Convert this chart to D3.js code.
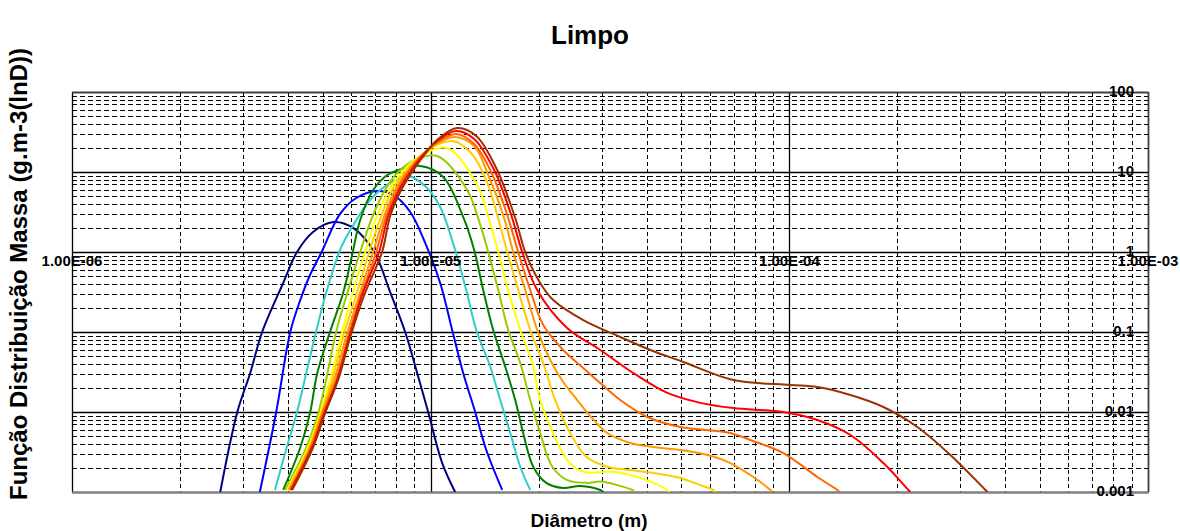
<!DOCTYPE html>
<html>
<head>
<meta charset="utf-8">
<script src="https://cdn.jsdelivr.net/npm/d3@7"></script>
<style>
  html, body { margin: 0; padding: 0; background: #ffffff; }
  svg { display: block; }
  text { font-family: "Liberation Sans", Arial, sans-serif; font-weight: bold; fill: #000; }
</style>
</head>
<body>
<svg id="chart" width="1180" height="531"></svg>
<script>
// ---------------- DATA (diameter in m, value in g.m-3) ----------------
const chartTitle = "Limpo";
const xTitle = "Diâmetro (m)";
const yTitle = "Função Distribuição Massa (g.m-3(lnD))";
const xTickValues = [1e-6, 1e-5, 1e-4, 1e-3];
const xTickLabels = ["1.00E-06", "1.00E-05", "1.00E-04", "1.00E-03"];
const yTickValues = [100, 10, 1, 0.1, 0.01, 0.001];
const yTickLabels = ["100", "10", "1", "0.1", "0.01", "0.001"];

const serie1 = [[2.59e-6,0.001],[2.89e-6,0.01],[3.14e-6,0.0307],[3.39e-6,0.1],[3.88e-6,0.41],[4.24e-6,1.0],[4.70e-6,1.78],[5.35e-6,2.37],[6.08e-6,2.0],[6.96e-6,1.0],[7.71e-6,0.316],[8.49e-6,0.1],[9.17e-6,0.0307],[9.84e-6,0.01],[10.77e-6,0.0023],[11.70e-6,0.001]];
const serie2 = [[3.34e-6,0.001],[3.71e-6,0.01],[4.06e-6,0.1],[4.33e-6,0.251],[4.61e-6,0.516],[4.95e-6,0.972],[5.59e-6,2.99],[6.20e-6,4.73],[7.09e-6,5.79],[7.86e-6,5.16],[8.77e-6,3.16],[9.71e-6,1.22],[10.63e-6,0.41],[11.48e-6,0.106],[12.32e-6,0.0307],[13.31e-6,0.01],[14.29e-6,0.00335],[15.83e-6,0.00106]];
const serie3 = [[3.68e-6,0.00106],[3.95e-6,0.00335],[4.24e-6,0.01],[4.50e-6,0.0307],[4.79e-6,0.1],[5.11e-6,0.307],[5.59e-6,1.06],[5.97e-6,1.88],[6.78e-6,4.47],[7.71e-6,7.29],[8.65e-6,8.91],[9.71e-6,6.49],[10.63e-6,3.65],[11.70e-6,1.06],[12.56e-6,0.335],[13.40e-6,0.106],[14.66e-6,0.0368],[15.63e-6,0.0141],[16.67e-6,0.00546],[17.77e-6,0.00207],[18.95e-6,0.00106]];
const serie4 = [[3.88e-6,0.00106],[4.33e-6,0.0036],[4.61e-6,0.0097],[4.83e-6,0.0307],[5.24e-6,0.1],[5.70e-6,0.307],[6.04e-6,0.917],[6.36e-6,2.51],[6.91e-6,5.96],[7.44e-6,8.66],[7.86e-6,10.0],[9.35e-6,11.9],[10.84e-6,8.66],[12.32e-6,2.74],[13.22e-6,1.06],[14.01e-6,0.335],[14.94e-6,0.106],[16.14e-6,0.0368],[17.21e-6,0.0141],[18.11e-6,0.00546],[19.32e-6,0.00207],[21.0e-6,0.0013],[23.42e-6,0.00112],[26.12e-6,0.00119],[29.71e-6,0.00106],[30.29e-6,0.001]];
const serie5 = [[3.93e-6,0.00106],[4.50e-6,0.0036],[4.86e-6,0.0097],[5.11e-6,0.0251],[5.45e-6,0.1],[5.89e-6,0.335],[6.36e-6,1.0],[6.91e-6,2.9],[7.52e-6,6.31],[8.12e-6,10.0],[9.05e-6,14.13],[10.42e-6,15.85],[12.64e-6,5.96],[13.75e-6,2.18],[14.47e-6,1.0],[15.43e-6,0.335],[16.45e-6,0.106],[17.77e-6,0.041],[18.95e-6,0.0141],[20.2e-6,0.00546],[21.83e-6,0.00207],[24.03e-6,0.00141],[27.33e-6,0.0013],[29.71e-6,0.00135],[33.13e-6,0.00122],[36.48e-6,0.00106],[36.96e-6,0.001]];
const serie6 = [[3.98e-6,0.00106],[4.55e-6,0.0036],[4.92e-6,0.0097],[5.24e-6,0.0251],[5.59e-6,0.0794],[6.04e-6,0.29],[6.57e-6,1.0],[7.09e-6,2.82],[7.71e-6,6.31],[8.33e-6,10.0],[9.35e-6,15.85],[11.12e-6,19.95],[13.48e-6,6.88],[14.56e-6,2.51],[15.43e-6,1.0],[16.45e-6,0.335],[17.77e-6,0.106],[19.19e-6,0.041],[20.2e-6,0.0141],[21.96e-6,0.00546],[24.03e-6,0.00251],[26.63e-6,0.00179],[32.29e-6,0.00179],[37.67e-6,0.00154],[41.75e-6,0.0013],[45.69e-6,0.00106],[46.28e-6,0.001]];
const serie7 = [[4.01e-6,0.00106],[4.58e-6,0.0036],[4.95e-6,0.0097],[5.31e-6,0.0251],[5.70e-6,0.0866],[6.20e-6,0.29],[6.74e-6,1.0],[7.28e-6,2.82],[7.86e-6,6.31],[8.49e-6,10.0],[9.23e-6,14.96],[10.1e-6,20.5],[11.48e-6,24.4],[12.89e-6,17.78],[14.29e-6,7.94],[15.33e-6,2.9],[16.35e-6,1.0],[17.54e-6,0.335],[18.95e-6,0.106],[20.6e-6,0.041],[22.25e-6,0.0141],[24.5e-6,0.00546],[27.15e-6,0.00276],[31.07e-6,0.00207],[36.02e-6,0.00188],[41.75e-6,0.00173],[49.66e-6,0.0015],[56.47e-6,0.00122],[61.38e-6,0.00106],[62.2e-6,0.001]];
const serie8 = [[4.03e-6,0.00106],[4.61e-6,0.0036],[4.98e-6,0.0097],[5.38e-6,0.0251],[5.81e-6,0.0866],[6.32e-6,0.29],[6.91e-6,1.0],[7.42e-6,2.82],[8.01e-6,6.31],[8.60e-6,10.0],[9.35e-6,15.4],[10.23e-6,21.75],[11.70e-6,27.4],[13.22e-6,21.13],[14.47e-6,9.17],[15.93e-6,2.9],[16.99e-6,1.0],[18.35e-6,0.335],[19.82e-6,0.106],[21.54e-6,0.0447],[23.42e-6,0.0237],[25.62e-6,0.0141],[27.86e-6,0.0089],[31.07e-6,0.00546],[36.02e-6,0.0041],[41.75e-6,0.00365],[49.66e-6,0.00335],[59.07e-6,0.0029],[68.46e-6,0.0023],[79.37e-6,0.00154],[88.5e-6,0.00106],[89.7e-6,0.001]];
const serie9 = [[4.06e-6,0.00106],[4.64e-6,0.0036],[5.01e-6,0.0097],[5.45e-6,0.0251],[5.89e-6,0.0866],[6.40e-6,0.29],[7.05e-6,1.0],[7.52e-6,2.82],[8.12e-6,6.31],[8.65e-6,10.0],[9.41e-6,15.85],[10.36e-6,23.04],[11.78e-6,29.85],[13.22e-6,22.39],[14.75e-6,10.0],[16.35e-6,2.9],[17.54e-6,1.0],[18.95e-6,0.335],[20.6e-6,0.1223],[23.42e-6,0.0596],[26.63e-6,0.0355],[29.71e-6,0.023],[33.78e-6,0.0141],[40.17e-6,0.00866],[49.66e-6,0.0065],[68.46e-6,0.00546],[77.85e-6,0.00447],[96.2e-6,0.00307],[119.7e-6,0.00154],[136.1e-6,0.00106],[137.9e-6,0.001]];
const serie10 = [[4.08e-6,0.00106],[4.67e-6,0.0036],[5.05e-6,0.0097],[5.49e-6,0.0251],[5.93e-6,0.0866],[6.44e-6,0.29],[7.18e-6,1.0],[7.61e-6,2.82],[8.22e-6,6.31],[8.77e-6,10.0],[9.53e-6,16.31],[10.42e-6,24.4],[11.78e-6,32.5],[13.22e-6,25.85],[15.03e-6,10.59],[16.77e-6,2.9],[18.0e-6,1.0],[19.82e-6,0.335],[23.88e-6,0.115],[29.71e-6,0.0596],[36.72e-6,0.0307],[45.69e-6,0.0173],[56.47e-6,0.013],[69.8e-6,0.0112],[96.2e-6,0.01],[119.7e-6,0.00794],[148.0e-6,0.00516],[182.9e-6,0.0023],[214.8e-6,0.00106],[217.6e-6,0.001]];
const serie11 = [[4.11e-6,0.00106],[4.70e-6,0.0036],[5.08e-6,0.0097],[5.52e-6,0.0251],[5.97e-6,0.0866],[6.53e-6,0.29],[7.32e-6,1.0],[7.71e-6,2.82],[8.33e-6,6.31],[8.88e-6,10.0],[9.65e-6,16.79],[10.49e-6,25.85],[11.86e-6,35.5],[13.40e-6,28.18],[15.23e-6,11.22],[17.21e-6,2.66],[18.35e-6,1.0],[20.2e-6,0.41],[21.96e-6,0.251],[26.63e-6,0.141],[33.78e-6,0.0866],[40.96e-6,0.0596],[50.62e-6,0.0422],[69.8e-6,0.0251],[100.6e-6,0.0218],[119.7e-6,0.0205],[148.0e-6,0.0163],[182.9e-6,0.01155],[227.5e-6,0.0065],[281.2e-6,0.0029],[352.2e-6,0.00106],[356.7e-6,0.001]];

const allSeries = [serie1, serie2, serie3, serie4, serie5, serie6, serie7, serie8, serie9, serie10, serie11];
const seriesColors = ["#000080", "#0000FF", "#33CCCC", "#008000", "#99CC00", "#FFFF00", "#FFCC00", "#FF9900", "#FF6600", "#FF0000", "#993300"];

// ---------------- LAYOUT ----------------
const svg = d3.select("#chart");
const plot = { left: 72, right: 1148, top: 92, bottom: 492 };

const x = d3.scaleLog().domain([1e-6, 1e-3]).range([plot.left, plot.right]);
const y = d3.scaleLog().domain([0.001, 100]).range([plot.bottom, plot.top]);

const xMinor = [], yMinor = [];
for (let e = -6; e < -3; e++) for (let m = 2; m <= 9; m++) xMinor.push(m * Math.pow(10, e));
for (let e = -3; e < 2; e++) for (let m = 2; m <= 9; m++) yMinor.push(m * Math.pow(10, e));

const grid = svg.append("g");
grid.selectAll(".hmin").data(yMinor).enter().append("line")
  .attr("x1", plot.left).attr("x2", plot.right)
  .attr("y1", d => Math.round(y(d)) + 0.5).attr("y2", d => Math.round(y(d)) + 0.5)
  .attr("stroke", "#000").attr("stroke-width", 1).attr("stroke-dasharray", "5,3");
grid.selectAll(".vmin").data(xMinor).enter().append("line")
  .attr("y1", plot.top).attr("y2", plot.bottom)
  .attr("x1", d => Math.round(x(d)) + 0.5).attr("x2", d => Math.round(x(d)) + 0.5)
  .attr("stroke", "#000").attr("stroke-width", 1).attr("stroke-dasharray", "4,3");
grid.selectAll(".hmaj").data(yTickValues).enter().append("line")
  .attr("x1", plot.left).attr("x2", plot.right)
  .attr("y1", d => Math.round(y(d)) + 0.5).attr("y2", d => Math.round(y(d)) + 0.5)
  .attr("stroke", "#000").attr("stroke-width", 1.3);
grid.selectAll(".vmaj").data(xTickValues).enter().append("line")
  .attr("y1", plot.top).attr("y2", plot.bottom)
  .attr("x1", d => Math.round(x(d)) + 0.5).attr("x2", d => Math.round(x(d)) + 0.5)
  .attr("stroke", "#000").attr("stroke-width", 1.3);
grid.append("line").attr("x1", plot.left).attr("x2", plot.right + 1)
  .attr("y1", plot.bottom + 0.5).attr("y2", plot.bottom + 0.5)
  .attr("stroke", "#808080").attr("stroke-width", 2);
grid.append("line").attr("x1", plot.left).attr("x2", plot.right + 1)
  .attr("y1", plot.top + 0.5).attr("y2", plot.top + 0.5)
  .attr("stroke", "#404040").attr("stroke-width", 1.5);
grid.append("line").attr("x1", plot.right + 0.5).attr("x2", plot.right + 0.5)
  .attr("y1", plot.top).attr("y2", plot.bottom)
  .attr("stroke", "#404040").attr("stroke-width", 1.5);

svg.append("defs").append("clipPath").attr("id", "clip")
  .append("rect").attr("x", plot.left).attr("y", plot.top)
  .attr("width", plot.right - plot.left).attr("height", plot.bottom - plot.top);

const line = d3.line()
  .x(d => x(d[0])).y(d => y(d[1]))
  .curve(d3.curveCatmullRom.alpha(0.5));

svg.append("g").attr("clip-path", "url(#clip)")
  .selectAll("path").data(allSeries).enter().append("path")
  .attr("d", line)
  .attr("fill", "none")
  .attr("stroke", (d, i) => seriesColors[i])
  .attr("stroke-width", 2)
  .attr("stroke-linejoin", "round");

// tick labels (x labels sit on the y=1 line, as in the reference)
svg.append("g").selectAll("text").data(xTickValues).enter().append("text")
  .attr("x", d => x(d)).attr("y", y(1) + 14)
  .attr("text-anchor", "middle").attr("font-size", 15)
  .text((d, i) => xTickLabels[i]);

svg.append("g").selectAll("text").data(yTickValues).enter().append("text")
  .attr("x", 1134).attr("y", d => y(d) + 4)
  .attr("text-anchor", "end").attr("font-size", 15)
  .text((d, i) => yTickLabels[i]);

// titles
svg.append("text").attr("x", 590).attr("y", 44)
  .attr("text-anchor", "middle").attr("font-size", 26).text(chartTitle);
svg.append("text").attr("x", 589).attr("y", 527)
  .attr("text-anchor", "middle").attr("font-size", 19).text(xTitle);
svg.append("text")
  .attr("transform", "translate(27,274) rotate(-90)")
  .attr("text-anchor", "middle").attr("font-size", 24).text(yTitle);
</script>
</body>
</html>
